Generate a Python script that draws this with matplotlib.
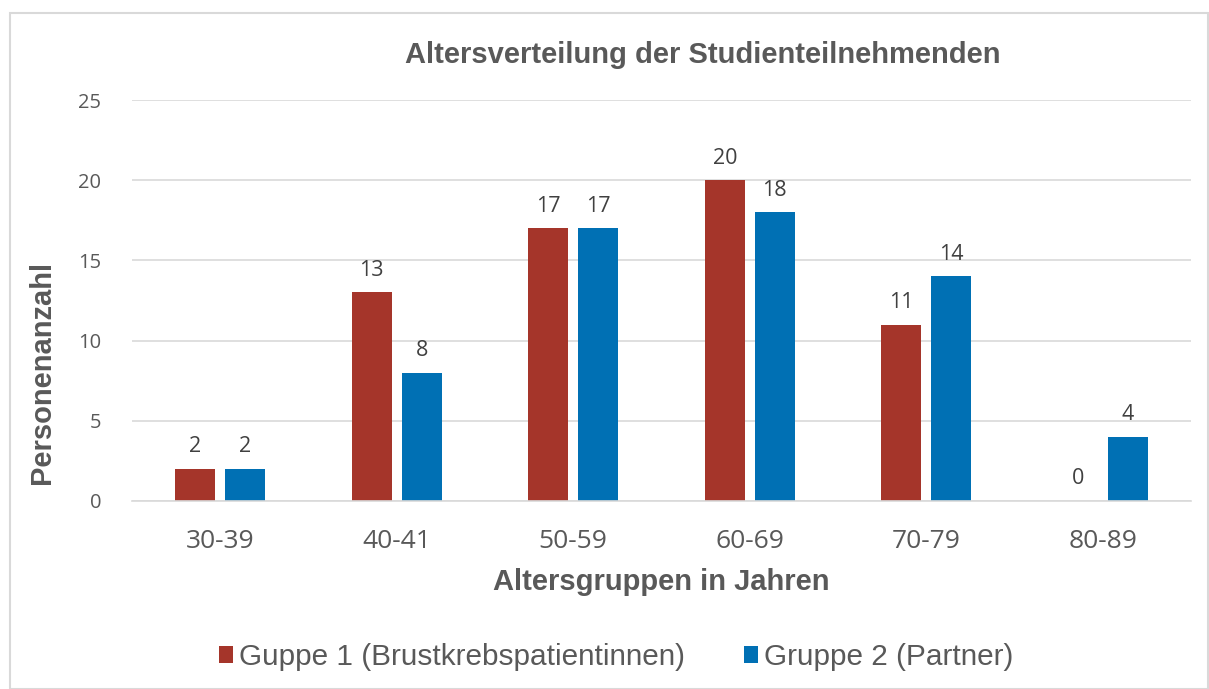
import numpy as np
import matplotlib.pyplot as plt
from matplotlib.patches import Rectangle

# data
categories = ["30-39", "40-41", "50-59", "60-69", "70-79", "80-89"]
gruppe1 = [2, 13, 17, 20, 11, 0]
gruppe2 = [2, 8, 17, 18, 14, 4]
label1 = "Guppe 1 (Brustkrebspatientinnen)"
label2 = "Gruppe 2 (Partner)"

red = "#A5352A"
blue = "#0070B4"
grey = "#595959"

fig = plt.figure(figsize=(12.09, 6.89), dpi=100)
# outer frame like the office chart border
fig.patches.append(Rectangle((10/1209, 0), 1198/1209, 1 - 13/689, transform=fig.transFigure,
                             fill=False, edgecolor="#D9D9D9", linewidth=1.5))

ax = fig.add_axes([132/1209, 1 - 501/689, (1191-132)/1209, (501-100)/689])

x = np.arange(len(categories))
w = 0.227
off = 0.1416
b1 = ax.bar(x - off, gruppe1, w, color=red, label=label1)
b2 = ax.bar(x + off, gruppe2, w, color=blue, label=label2)

for bars, vals in ((b1, gruppe1), (b2, gruppe2)):
    for r, v in zip(bars, vals):
        ax.annotate(str(v), (r.get_x() + r.get_width()/2, v), xytext=(0, 12),
                    textcoords="offset points", ha="center", va="baseline",
                    fontsize=15.5, color="#404040", family="Open Sans")

ax.set_xlim(-0.5, len(categories) - 0.5)
ax.set_ylim(0, 25)
ax.set_yticks([0, 5, 10, 15, 20, 25])
ax.set_xticks(x)
ax.set_xticklabels(categories)
ax.grid(axis="y", color="#D9D9D9", linewidth=1.2)
ax.set_axisbelow(True)
for s in ["top", "right", "left"]:
    ax.spines[s].set_visible(False)
ax.spines["bottom"].set_color("#D9D9D9")
ax.spines["bottom"].set_linewidth(1.2)
ax.tick_params(length=0, colors=grey)
ax.tick_params(axis="x", labelsize=19, pad=20)
ax.tick_params(axis="y", labelsize=14.5, pad=22)
for t in ax.get_xticklabels() + ax.get_yticklabels():
    t.set_family("Open Sans")

ax.set_xlabel("Altersgruppen in Jahren", fontsize=21, fontweight="bold", color=grey,
              family="Liberation Sans")
ax.set_ylabel("Personenanzahl", fontsize=21, fontweight="bold", color=grey,
              family="Liberation Sans")
ax.xaxis.set_label_coords(0.5, (501 - 582) / 401)
ax.xaxis.label.set_va("center")
ax.yaxis.set_label_coords((42 - 132) / 1059, (501 - 372) / 401)
ax.yaxis.label.set_va("center")

fig.text(703/1209, 1 - 55/689, "Altersverteilung der Studienteilnehmenden", ha="center", va="center",
         fontsize=21, fontweight="bold", color=grey, family="Liberation Sans")

leg = fig.legend(loc="center", bbox_to_anchor=(616/1209, 1 - 657/689), ncol=2, frameon=False,
                 prop={"family": "Liberation Sans", "size": 21.4}, handlelength=0.47, handleheight=0.47,
                 handletextpad=0.2, columnspacing=2.0)
for t in leg.get_texts():
    t.set_color(grey)

fig.savefig("out.png", dpi=100)
